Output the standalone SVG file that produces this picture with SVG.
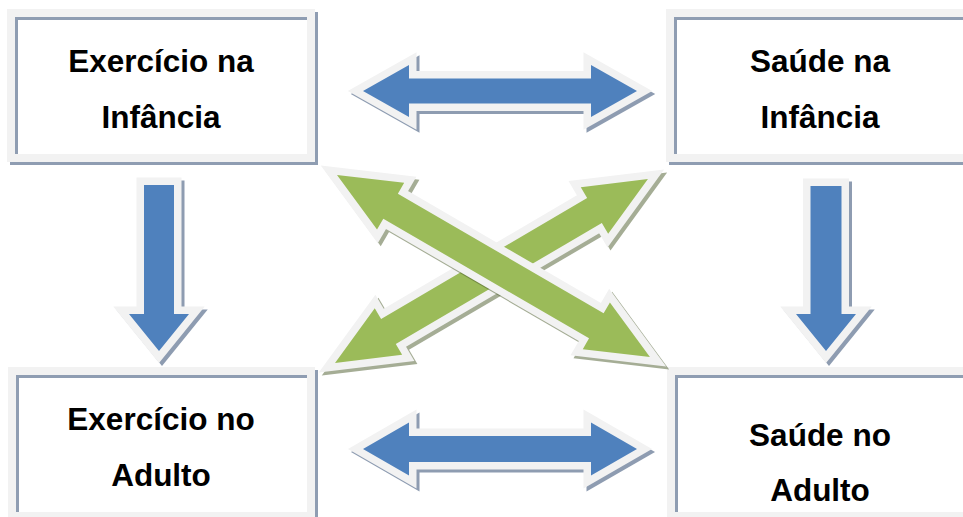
<svg xmlns="http://www.w3.org/2000/svg" xmlns:xlink="http://www.w3.org/1999/xlink" width="963" height="517" viewBox="0 0 963 517">
  <style>
    .frame { fill: none; stroke: #f2f2f2; stroke-width: 8; }
    .frame-shadow { fill: none; stroke: #1f3c66; stroke-width: 8; opacity: 0.5; }
    .blue { fill: #4f81bd; stroke: #f2f2f2; stroke-width: 15; stroke-linejoin: miter; stroke-miterlimit: 10; paint-order: stroke fill; }
    .green { fill: #9bbb59; stroke: #f2f2f2; stroke-width: 15; stroke-linejoin: miter; stroke-miterlimit: 10; paint-order: stroke fill; }
    .blue-shadow { fill: #1f3c66; stroke: #1f3c66; stroke-width: 15; stroke-linejoin: miter; stroke-miterlimit: 10; opacity: 0.5; }
    .green-shadow { fill: #4d5d2e; stroke: #4d5d2e; stroke-width: 15; stroke-linejoin: miter; stroke-miterlimit: 10; opacity: 0.5; }
    .label { font-family: "Liberation Sans", Arial, sans-serif; font-weight: bold; font-size: 31.5px; fill: #000; text-anchor: middle; }
  </style>
  <defs>
    <!-- double arrow shapes -->
    <polygon id="arrow-top" transform="translate(363,91)" points="0,0 46,-26 46,-12.5 228,-12.5 228,-26 274,0 228,26 228,12.5 46,12.5 46,26"/>
    <polygon id="arrow-bottom" transform="translate(363,449)" points="0,0 46,-26.5 46,-13 228,-13 228,-26.5 274,0 228,26.5 228,13 46,13 46,26.5"/>
    <polygon id="arrow-diag-down" transform="translate(337,175) rotate(30.18)" points="0,0 62,-27 62,-14.5 300,-14.5 300,-27 362,0 300,27 300,14.5 62,14.5 62,27"/>
    <polygon id="arrow-diag-up" transform="translate(335,363) rotate(-30.45)" points="0,0 62,-27 62,-14.5 301,-14.5 301,-27 363,0 301,27 301,14.5 62,14.5 62,27"/>
    <!-- single down arrows -->
    <polygon id="arrow-left-down" transform="translate(159,185) rotate(90)" points="0,-15 129,-15 129,-30 166,0 129,30 129,15 0,15"/>
    <polygon id="arrow-right-down" transform="translate(826,186) rotate(90)" points="0,-15.5 128,-15.5 128,-30 165,0 128,30 128,15.5 0,15.5"/>
  </defs>

  <rect width="963" height="517" fill="#ffffff"/>

  <!-- boxes -->
  <g id="exercicio-infancia">
    <rect class="frame-shadow" x="14" y="16" width="300" height="145"/>
    <rect class="frame" x="11" y="13" width="300" height="145"/>
    <text class="label" x="161" y="72">Exercício na</text>
    <text class="label" x="161" y="128">Infância</text>
  </g>
  <g id="saude-infancia">
    <rect class="frame-shadow" x="673" y="16" width="300" height="145"/>
    <rect class="frame" x="670" y="13" width="300" height="145"/>
    <text class="label" x="820" y="72">Saúde na</text>
    <text class="label" x="820" y="128">Infância</text>
  </g>
  <g id="exercicio-adulto">
    <rect class="frame-shadow" x="15" y="374" width="299" height="145"/>
    <rect class="frame" x="12" y="371" width="299" height="145"/>
    <text class="label" x="161" y="430">Exercício no</text>
    <text class="label" x="161" y="486">Adulto</text>
  </g>
  <g id="saude-adulto">
    <rect class="frame-shadow" x="674" y="374" width="300" height="145"/>
    <rect class="frame" x="671" y="371" width="300" height="145"/>
    <text class="label" x="820" y="446">Saúde no</text>
    <text class="label" x="820" y="501">Adulto</text>
  </g>

  <!-- connectors -->
  <g id="connectors">
    <use xlink:href="#arrow-top" class="blue-shadow" transform="translate(3,3)"/>
    <use xlink:href="#arrow-top" class="blue"/>
    <use xlink:href="#arrow-bottom" class="blue-shadow" transform="translate(3,3)"/>
    <use xlink:href="#arrow-bottom" class="blue"/>
    <use xlink:href="#arrow-left-down" class="blue-shadow" transform="translate(3,3)"/>
    <use xlink:href="#arrow-left-down" class="blue"/>
    <use xlink:href="#arrow-right-down" class="blue-shadow" transform="translate(3,3)"/>
    <use xlink:href="#arrow-right-down" class="blue"/>
    <use xlink:href="#arrow-diag-up" class="green-shadow" transform="translate(3,3)"/>
    <use xlink:href="#arrow-diag-up" class="green"/>
    <use xlink:href="#arrow-diag-down" class="green-shadow" transform="translate(3,3)"/>
    <use xlink:href="#arrow-diag-down" class="green"/>
  </g>
</svg>
